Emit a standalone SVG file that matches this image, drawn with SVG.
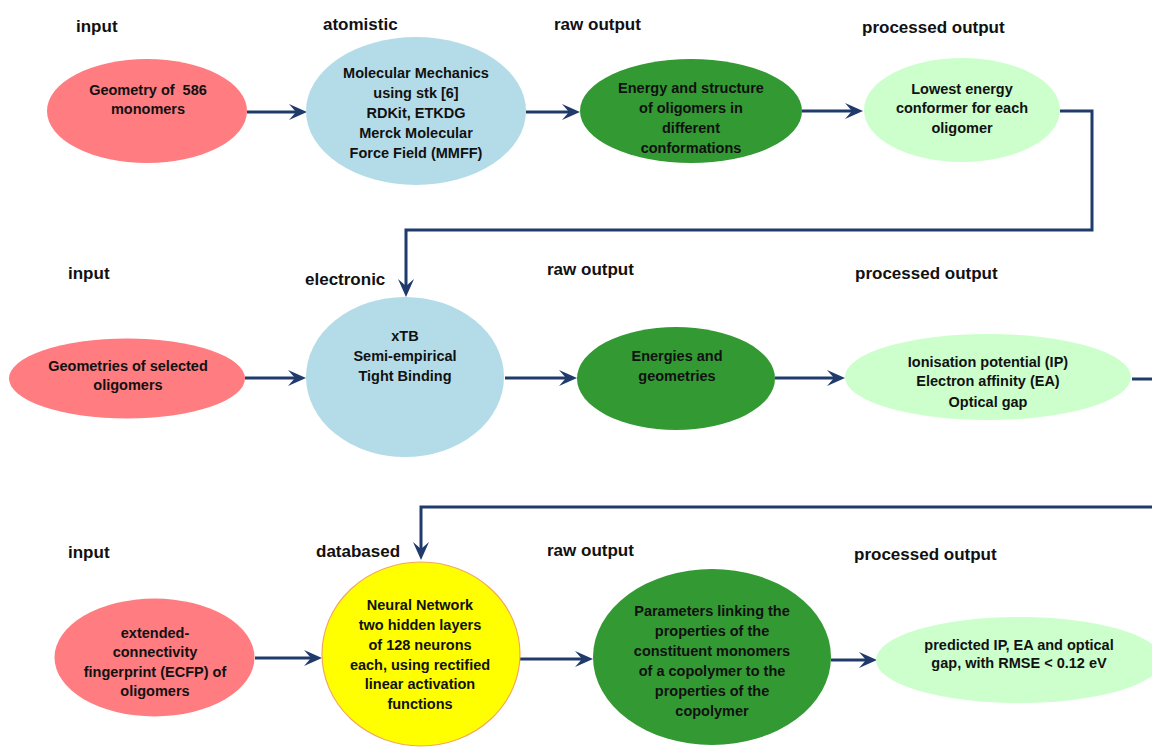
<svg xmlns="http://www.w3.org/2000/svg" width="1152" height="747" viewBox="0 0 1152 747">
<style>
.lbl{font-family:"Liberation Sans",Arial,sans-serif;font-weight:bold;font-size:17px;fill:#111}
.t{font-family:"Liberation Sans",Arial,sans-serif;font-weight:bold;font-size:14.5px;fill:#111;text-anchor:middle}
.pink{fill:#FF7C80}
.blue{fill:#B4DCE8}
.green{fill:#339933}
.lgreen{fill:#CCFFCC}
.yellow{fill:#FFFF00;stroke:#F0A860;stroke-width:1.2}
.c{fill:none;stroke:#1F3A6B;stroke-width:3;stroke-linejoin:miter}
.a{marker-end:url(#arr)}
</style>
<defs>
<marker id="arr" markerUnits="userSpaceOnUse" viewBox="0 0 18 18" markerWidth="18" markerHeight="18" refX="7" refY="9" orient="auto">
<path d="M0,1 L18,9 L0,17 L7,9 z" fill="#1F3A6B"/>
</marker>
</defs>
<rect width="1152" height="747" fill="#fff"/>
<g id="labels">
<text class="lbl" x="76" y="32">input</text>
<text class="lbl" x="323" y="30">atomistic</text>
<text class="lbl" x="554" y="30">raw output</text>
<text class="lbl" x="862" y="33">processed output</text>
<text class="lbl" x="68" y="279">input</text>
<text class="lbl" x="305" y="285">electronic</text>
<text class="lbl" x="547" y="275">raw output</text>
<text class="lbl" x="855" y="279">processed output</text>
<text class="lbl" x="68" y="558">input</text>
<text class="lbl" x="316" y="557">databased</text>
<text class="lbl" x="547" y="556">raw output</text>
<text class="lbl" x="854" y="560">processed output</text>
</g>
<g id="connectors">
<path class="c a" d="M247,112 H296"/>
<path class="c a" d="M526,112 H569"/>
<path class="c a" d="M802,111 H852"/>
<path class="c a" d="M1060,111 H1092 V230 H406 V286"/>
<path class="c a" d="M245,378 H295"/>
<path class="c a" d="M505,378 H566"/>
<path class="c a" d="M775,378 H834"/>
<path class="c a" d="M1132,379 H1160 V507 H421 V549"/>
<path class="c a" d="M255,658 H311"/>
<path class="c a" d="M520,659 H582"/>
<path class="c a" d="M831,660 H866"/>
</g>
<g id="n1">
<ellipse class="pink" cx="147" cy="111" rx="100" ry="52"/>
<text class="t" x="148" y="95" xml:space="preserve">Geometry of  586</text>
<text class="t" x="148" y="114">monomers</text>
</g>
<g id="n2">
<ellipse class="blue" cx="416" cy="111" rx="110" ry="74"/>
<text class="t" x="416" y="78">Molecular Mechanics</text>
<text class="t" x="416" y="98">using stk [6]</text>
<text class="t" x="416" y="118">RDKit, ETKDG</text>
<text class="t" x="416" y="138">Merck Molecular</text>
<text class="t" x="416" y="158">Force Field (MMFF)</text>
</g>
<g id="n3">
<ellipse class="green" cx="691" cy="111" rx="111" ry="52"/>
<text class="t" x="691" y="93">Energy and structure</text>
<text class="t" x="691" y="113">of oligomers in</text>
<text class="t" x="691" y="133">different</text>
<text class="t" x="691" y="153">conformations</text>
</g>
<g id="n4">
<ellipse class="lgreen" cx="962" cy="110" rx="98" ry="52"/>
<text class="t" x="962" y="94">Lowest energy</text>
<text class="t" x="962" y="113">conformer for each</text>
<text class="t" x="962" y="133">oligomer</text>
</g>
<g id="n5">
<ellipse class="pink" cx="127" cy="378.5" rx="118" ry="40"/>
<text class="t" x="128" y="371">Geometries of selected</text>
<text class="t" x="128" y="390">oligomers</text>
</g>
<g id="n6">
<ellipse class="blue" cx="405" cy="377" rx="99" ry="80"/>
<text class="t" x="405" y="341">xTB</text>
<text class="t" x="405" y="361">Semi-empirical</text>
<text class="t" x="405" y="381">Tight Binding</text>
</g>
<g id="n7">
<ellipse class="green" cx="676" cy="378.5" rx="99" ry="51.5"/>
<text class="t" x="677" y="361">Energies and</text>
<text class="t" x="677" y="381">geometries</text>
</g>
<g id="n8">
<ellipse class="lgreen" cx="988" cy="377" rx="143" ry="43"/>
<text class="t" x="988" y="367">Ionisation potential (IP)</text>
<text class="t" x="988" y="386">Electron affinity (EA)</text>
<text class="t" x="988" y="407">Optical gap</text>
</g>
<g id="n9">
<ellipse class="pink" cx="154.5" cy="657.5" rx="100" ry="59"/>
<text class="t" x="155" y="638">extended-</text>
<text class="t" x="155" y="657">connectivity</text>
<text class="t" x="155" y="677">fingerprint (ECFP) of</text>
<text class="t" x="155" y="696">oligomers</text>
</g>
<g id="n10">
<ellipse class="yellow" cx="421" cy="654" rx="99" ry="92"/>
<text class="t" x="420" y="610">Neural Network</text>
<text class="t" x="420" y="630">two hidden layers</text>
<text class="t" x="420" y="650">of 128 neurons</text>
<text class="t" x="420" y="670">each, using rectified</text>
<text class="t" x="420" y="689">linear activation</text>
<text class="t" x="420" y="709">functions</text>
</g>
<g id="n11">
<ellipse class="green" cx="712" cy="657" rx="119" ry="88"/>
<text class="t" x="712" y="616">Parameters linking the</text>
<text class="t" x="712" y="636">properties of the</text>
<text class="t" x="712" y="656">constituent monomers</text>
<text class="t" x="712" y="676">of a copolymer to the</text>
<text class="t" x="712" y="696">properties of the</text>
<text class="t" x="712" y="716">copolymer</text>
</g>
<g id="n12">
<ellipse class="lgreen" cx="1019" cy="660" rx="143" ry="43"/>
<text class="t" x="1019" y="650">predicted IP, EA and optical</text>
<text class="t" x="1019" y="668">gap, with RMSE &lt; 0.12 eV</text>
</g>
</svg>
